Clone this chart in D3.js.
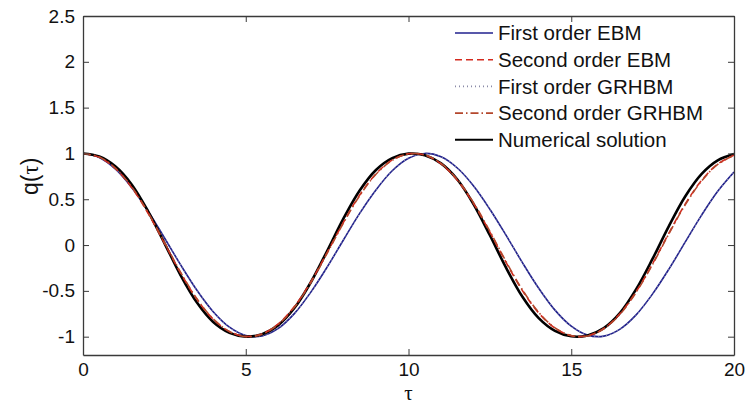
<!DOCTYPE html>
<html>
<head>
<meta charset="utf-8">
<script src="https://cdn.jsdelivr.net/npm/d3@7"></script>
<style>
  body { margin: 0; background: #fff; }
  svg { display: block; font-family: "Liberation Sans", Arial, sans-serif; }
</style>
</head>
<body>
<div id="wrapper"></div>
<script>
// values, tau = 0, 0.5, ... 20
const tau = d3.range(0, 20.001, 0.5)

const firstEBM = [1, 0.956, 0.828, 0.626, 0.370, 0.080, -0.216, -0.493, -0.727, -0.896, -0.987, -0.992, -0.910, -0.746, -0.514, -0.241, 0.055, 0.346, 0.602, 0.811, 0.947, 1.000, 0.963, 0.841, 0.645, 0.391, 0.105, -0.192, -0.471, -0.710, -0.885, -0.983, -0.994, -0.917, -0.759, -0.533, -0.263, 0.032, 0.324, 0.587, 0.797]
const secondEBM = [1, 0.958, 0.833, 0.626, 0.347, 0.022, -0.305, -0.592, -0.809, -0.945, -0.998, -0.970, -0.860, -0.669, -0.401, -0.082, 0.248, 0.546, 0.777, 0.928, 0.996, 0.982, 0.886, 0.708, 0.452, 0.141, -0.191, -0.497, -0.741, -0.907, -0.989, -0.990, -0.910, -0.748, -0.505, -0.202, 0.131, 0.447, 0.703, 0.884, 0.981]
const firstGRHBM = [1, 0.956, 0.829, 0.627, 0.371, 0.081, -0.215, -0.492, -0.726, -0.896, -0.987, -0.992, -0.911, -0.747, -0.515, -0.242, 0.054, 0.345, 0.601, 0.810, 0.947, 1.000, 0.964, 0.842, 0.646, 0.392, 0.106, -0.191, -0.470, -0.709, -0.884, -0.983, -0.994, -0.918, -0.760, -0.534, -0.264, 0.031, 0.323, 0.586, 0.796]
const secondGRHBM = [1, 0.960, 0.837, 0.632, 0.354, 0.030, -0.298, -0.587, -0.806, -0.944, -0.999, -0.973, -0.865, -0.676, -0.409, -0.090, 0.240, 0.539, 0.772, 0.925, 0.995, 0.984, 0.891, 0.715, 0.461, 0.150, -0.182, -0.489, -0.735, -0.904, -0.988, -0.992, -0.914, -0.754, -0.512, -0.210, 0.123, 0.439, 0.697, 0.880, 0.979]
const numerical = [1, 0.966, 0.857, 0.659, 0.368, 0.022, -0.331, -0.628, -0.840, -0.958, -0.999, -0.974, -0.874, -0.685, -0.406, -0.065, 0.288, 0.595, 0.819, 0.948, 0.998, 0.981, 0.891, 0.715, 0.445, 0.107, -0.249, -0.564, -0.797, -0.936, -0.996, -0.986, -0.906, -0.740, -0.479, -0.149, 0.207, 0.530, 0.774, 0.924, 0.993]

const seriesNames = ["First order EBM", "Second order EBM", "First order GRHBM", "Second order GRHBM", "Numerical solution"]
const xTicks = [0, 5, 10, 15, 20]
const yTicks = [-1, -0.5, 0, 0.5, 1, 1.5, 2, 2.5]

const series = [
  { name: seriesNames[0], values: firstEBM, color: "#20208e", width: 1.6, dash: null },
  { name: seriesNames[1], values: secondEBM, color: "#d42a1e", width: 1.6, dash: "7,4" },
  { name: seriesNames[2], values: firstGRHBM, color: "#8a8aa8", width: 1.2, dash: "1,3" },
  { name: seriesNames[3], values: secondGRHBM, color: "#b4472c", width: 1.6, dash: "8,3,1.5,3" },
  { name: seriesNames[4], values: numerical, color: "#000000", width: 2.6, dash: null },
]

const dimensions = {
  width: 745,
  height: 408,
  margin: { top: 16, right: 11, bottom: 53, left: 83 },
}
dimensions.boundedWidth = dimensions.width - dimensions.margin.left - dimensions.margin.right
dimensions.boundedHeight = dimensions.height - dimensions.margin.top - dimensions.margin.bottom

const svg = d3.select("#wrapper")
  .append("svg")
  .attr("width", dimensions.width)
  .attr("height", dimensions.height)

const bounds = svg.append("g")
  .attr("transform", `translate(${dimensions.margin.left},${dimensions.margin.top})`)

const xScale = d3.scaleLinear()
  .domain([0, 20])
  .range([0, dimensions.boundedWidth])

const yScale = d3.scaleLinear()
  .domain([-1.2, 2.5])
  .range([dimensions.boundedHeight, 0])

bounds.append("clipPath")
  .attr("id", "clip")
  .append("rect")
  .attr("width", dimensions.boundedWidth)
  .attr("height", dimensions.boundedHeight)

// curves
const lineGen = d3.line()
  .x((d, i) => xScale(tau[i]))
  .y(d => yScale(d))
  .curve(d3.curveCatmullRom.alpha(0.5))

const plot = bounds.append("g").attr("clip-path", "url(#clip)")
const drawOrder = [0, 2, 4, 1, 3]
drawOrder.forEach(k => {
  const s = series[k]
  plot.append("path")
    .attr("d", lineGen(s.values))
    .attr("fill", "none")
    .attr("stroke", s.color)
    .attr("stroke-width", s.width)
    .attr("stroke-dasharray", s.dash)
})

// axes, matlab style inward ticks on all four sides
const axisColor = "#3a3a3a"
const tickLen = 6
const plain = d => String(d)
const xAxis = bounds.append("g")
  .attr("transform", `translate(0,${dimensions.boundedHeight})`)
  .call(d3.axisBottom(xScale).tickValues(xTicks).tickSizeInner(-tickLen).tickSizeOuter(0).tickPadding(8).tickFormat(plain))
const xAxisTop = bounds.append("g")
  .call(d3.axisTop(xScale).tickValues(xTicks).tickSizeInner(-tickLen).tickSizeOuter(0).tickFormat(""))
const yAxis = bounds.append("g")
  .call(d3.axisLeft(yScale).tickValues(yTicks).tickSizeInner(-tickLen).tickSizeOuter(0).tickPadding(8).tickFormat(plain))
const yAxisRight = bounds.append("g")
  .attr("transform", `translate(${dimensions.boundedWidth},0)`)
  .call(d3.axisRight(yScale).tickValues(yTicks).tickSizeInner(-tickLen).tickSizeOuter(0).tickFormat(""))

;[xAxis, xAxisTop, yAxis, yAxisRight].forEach(a => {
  a.select(".domain").attr("stroke", axisColor).attr("stroke-width", 1.3)
  a.selectAll(".tick line").attr("stroke", axisColor)
  a.selectAll("text")
    .attr("fill", "#111")
    .style("font-size", "19px")
    .style("font-family", "\"Liberation Sans\", Arial, sans-serif")
})

// axis labels
svg.append("text")
  .attr("x", dimensions.margin.left + dimensions.boundedWidth / 2)
  .attr("y", 400)
  .attr("text-anchor", "middle")
  .style("font-family", "\"Liberation Serif\", serif")
  .style("font-size", "21px")
  .attr("fill", "#111")
  .text("τ")

const yLabel = svg.append("text")
  .attr("transform", `translate(38,${dimensions.margin.top + yScale(0.75)}) rotate(-90)`)
  .attr("text-anchor", "middle")
  .style("font-size", "23px")
  .attr("fill", "#111")
yLabel.append("tspan").text("q(")
yLabel.append("tspan").style("font-family", "\"Liberation Serif\", serif").text("τ")
yLabel.append("tspan").text(")")

// legend
const legend = svg.append("g")
  .attr("transform", "translate(455,33)")
const rowGap = 26.7
series.forEach((s, i) => {
  const row = legend.append("g").attr("transform", `translate(0,${i * rowGap})`)
  row.append("line")
    .attr("x1", 0).attr("x2", 38)
    .attr("stroke", s.color)
    .attr("stroke-width", i === 4 ? 2 : 1.6)
    .attr("stroke-dasharray", s.dash)
  row.append("text")
    .attr("x", 43)
    .attr("dy", "0.35em")
    .style("font-size", "20.5px")
    .attr("fill", "#111")
    .text(s.name)
})
</script>
</body>
</html>
